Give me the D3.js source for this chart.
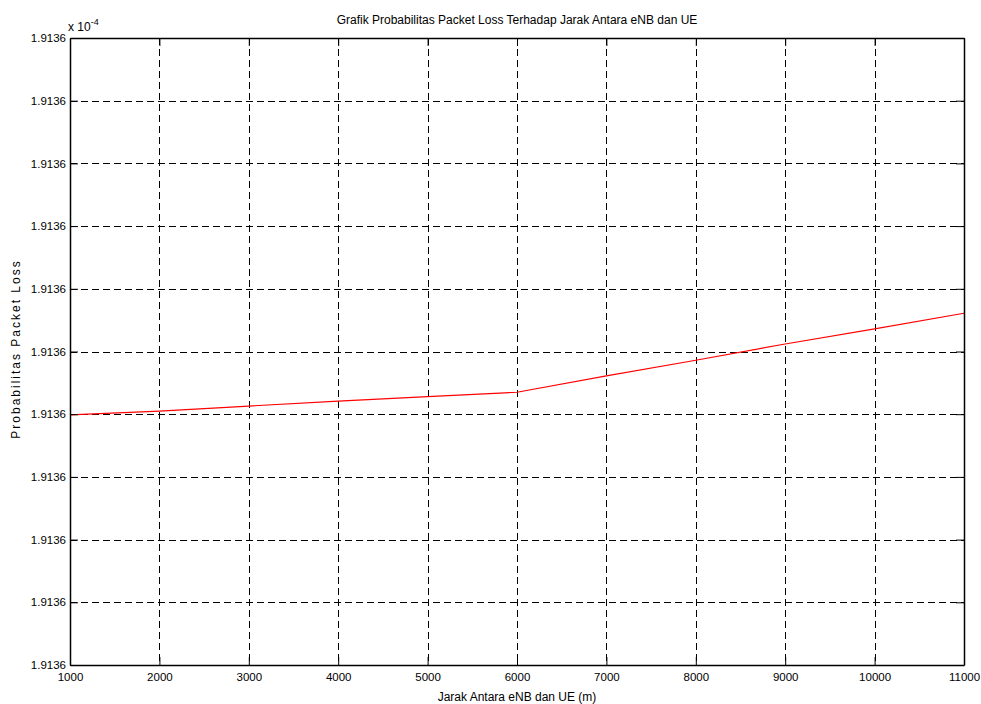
<!DOCTYPE html>
<html><head><meta charset="utf-8">
<script src="https://cdn.jsdelivr.net/npm/d3@7"></script>
<style>body{margin:0;background:#fff}svg{display:block}text{font-family:"Liberation Sans",Arial,sans-serif;fill:#000}</style>
</head><body><svg id="c" width="981" height="704"></svg>
<script>
// Distance (m)
const distances = [1000,2000,3000,4000,5000,6000,7000,8000,9000,10000,11000];
// Packet loss probability, expressed as offset from the bottom of the axis in y-tick steps
const lossOffset = [3.99,4.05,4.13,4.21,4.28,4.35,4.61,4.86,5.12,5.36,5.61];
const xTicks = [1000,2000,3000,4000,5000,6000,7000,8000,9000,10000,11000];
const yTicks = [0,1,2,3,4,5,6,7,8,9,10];
const yTickLabels = ["1.9136","1.9136","1.9136","1.9136","1.9136","1.9136","1.9136","1.9136","1.9136","1.9136","1.9136"];

const L=70,R=964,T=38,B=665;
const svg=d3.select("#c");
const x=d3.scaleLinear().domain([1000,11000]).range([L,R]);
const y=d3.scaleLinear().domain([0,10]).range([B,T]);

// grid
const g=svg.append("g").attr("stroke","#000").attr("stroke-width",1).attr("stroke-dasharray","7,4").attr("fill","none");
xTicks.slice(1,-1).forEach(v=>g.append("line").attr("x1",Math.round(x(v))+0.5).attr("x2",Math.round(x(v))+0.5).attr("y1",T).attr("y2",B));
yTicks.slice(1,-1).forEach(v=>g.append("line").attr("y1",Math.round(y(v))+0.5).attr("y2",Math.round(y(v))+0.5).attr("x1",L).attr("x2",R));

// line
svg.append("path").datum(distances.map((d,i)=>[d,lossOffset[i]]))
 .attr("fill","none").attr("stroke","#ff0000").attr("stroke-width",1.2)
 .attr("d",d3.line().x(d=>x(d[0])).y(d=>y(d[1])));

// axes
const xa=svg.append("g").attr("transform",`translate(0,${B})`)
 .call(d3.axisBottom(x).tickValues(xTicks).tickFormat(d3.format("d")).tickSizeInner(-8).tickSizeOuter(0).tickPadding(8));
const xt=svg.append("g").attr("transform",`translate(0,${T})`)
 .call(d3.axisTop(x).tickValues(xTicks).tickFormat("").tickSizeInner(-8).tickSizeOuter(0));
const ya=svg.append("g").attr("transform",`translate(${L},0)`)
 .call(d3.axisLeft(y).tickValues(yTicks).tickFormat((d,i)=>yTickLabels[i]).tickSizeInner(-8).tickSizeOuter(0).tickPadding(4));
const yr=svg.append("g").attr("transform",`translate(${R},0)`)
 .call(d3.axisRight(y).tickValues(yTicks).tickFormat("").tickSizeInner(-8).tickSizeOuter(0));
[xa,xt,ya,yr].forEach(a=>{a.select(".domain").attr("stroke","#000").attr("stroke-width",1.5);a.selectAll("line").attr("stroke","#000");a.selectAll("text").attr("font-size",11.5).attr("font-family","Liberation Sans, Arial, sans-serif").attr("fill","#000");});
ya.selectAll("text").attr("font-size",11.5);

// labels
svg.append("text").attr("x",517).attr("y",24).attr("text-anchor","middle").attr("font-size",12).text("Grafik Probabilitas Packet Loss Terhadap Jarak Antara eNB dan UE");
svg.append("text").attr("x",517).attr("y",701).attr("text-anchor","middle").attr("font-size",12).text("Jarak Antara eNB dan UE (m)");
svg.append("text").attr("transform","translate(20,349) rotate(-90)").attr("text-anchor","middle").attr("font-size",12).attr("letter-spacing",2).text("Probabilitas Packet Loss");
const m=svg.append("text").attr("x",68).attr("y",31).attr("font-size",12);
m.append("tspan").text("x 10");
m.append("tspan").attr("dy",-6).attr("font-size",9).text("-4");
</script></body></html>
